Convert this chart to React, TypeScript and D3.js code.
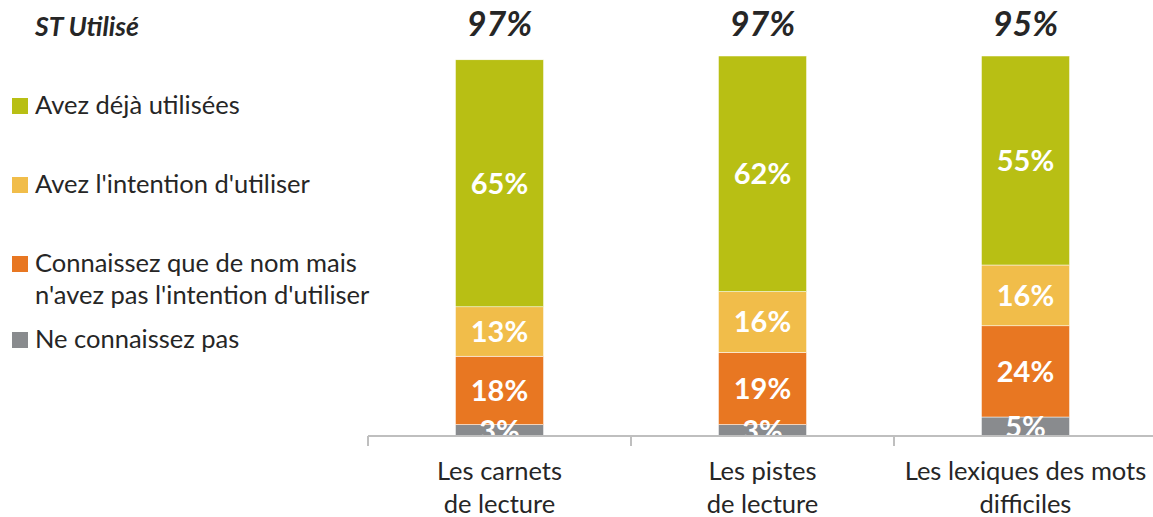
import React from "react";
import * as d3 from "d3";

const categories = [["Les carnets", "de lecture"], ["Les pistes", "de lecture"], ["Les lexiques des mots", "difficiles"]];
const seriesNames = ["Ne connaissez pas", "Connaissez que de nom mais n'avez pas l'intention d'utiliser", "Avez l'intention d'utiliser", "Avez déjà utilisées"];
const neConnaissezPas = [3, 3, 5];
const connaissezNom = [18, 19, 24];
const intention = [13, 16, 16];
const dejaUtilisees = [65, 62, 55];
const totals = ["97%", "97%", "95%"];
const legendTitle = "ST Utilisé";
const legendItems = [
  { lines: ["Avez déjà utilisées"], series: 3 },
  { lines: ["Avez l'intention d'utiliser"], series: 2 },
  { lines: ["Connaissez que de nom mais", "n'avez pas l'intention d'utiliser"], series: 1 },
  { lines: ["Ne connaissez pas"], series: 0 },
];

const colors = ["#898b8e", "#e87722", "#f1bd4a", "#b8bf14"];
const FONT = "Lato, 'Open Sans', sans-serif";

export default function App() {
  const W = 1153, H = 517;
  const axisY = 436;
  const x = d3.scaleBand<number>().domain([0, 1, 2]).range([368, 1157]).paddingInner(0.665).paddingOuter(0.3325);
  const y = d3.scaleLinear().domain([0, 100]).range([axisY, 56]);
  const seriesVals = [neConnaissezPas, connaissezNom, intention, dejaUtilisees];
  const stack = d3.stack<number, number>().keys([0, 1, 2, 3]).value((i, k) => seriesVals[k][i]);
  const stacked = stack([0, 1, 2]);
  const step = x.step();
  const bandStart = (i: number) => 368 + i * step;
  const legendYs = [106, 185, 264, 340];

  return (
    <svg width={W} height={H} style={{ position: "absolute", left: 0, top: 0 }} fontFamily={FONT}>
      <defs>
        <clipPath id="plotclip">
          <rect x={0} y={0} width={W} height={axisY} />
        </clipPath>
      </defs>
      <rect x={0} y={0} width={W} height={H} fill="#fff" />
      {/* legend */}
      <text x={35} y={36} fontSize={26.5} fontWeight="bold" fontStyle="italic" fill="#262626">{legendTitle}</text>
      {legendItems.map((it, j) => (
        <g key={j}>
          <rect x={12} y={legendYs[j] - 8} width={16} height={16} fill={colors[it.series]} />
          {it.lines.map((ln, k) => (
            <text key={k} x={35} y={legendYs[j] + 8 + k * 32} fontSize={25.5} fill="#262626">{ln}</text>
          ))}
        </g>
      ))}
      {/* bars */}
      <g clipPath="url(#plotclip)">
        {stacked.map((layer, k) => (
          <g key={k}>
            {layer.map((d, i) => (
              <rect key={i} x={x(i)} width={x.bandwidth()} y={y(d[1])} height={y(d[0]) - y(d[1])} fill={colors[k]} stroke="#fff" strokeWidth={0.5} />
            ))}
          </g>
        ))}
        {stacked.map((layer, k) => (
          <g key={"l" + k}>
            {layer.map((d, i) => (
              <text key={i} x={(x(i) as number) + x.bandwidth() / 2} y={(y(d[0]) + y(d[1])) / 2} dy="0.36em" textAnchor="middle" fontSize={29} fontWeight="bold" fill="#fff">
                {seriesVals[k][i]}%
              </text>
            ))}
          </g>
        ))}
      </g>
      {/* totals */}
      {totals.map((t, i) => (
        <text key={i} x={(x(i) as number) + x.bandwidth() / 2} y={36} textAnchor="middle" fontSize={34} fontWeight="bold" fontStyle="italic" fill="#262626">{t}</text>
      ))}
      {/* axis */}
      <line x1={368} x2={W} y1={axisY} y2={axisY} stroke="#bfbfbf" strokeWidth={2} />
      {[0, 1, 2, 3].map((i) => (
        <line key={i} x1={bandStart(i)} x2={bandStart(i)} y1={axisY} y2={axisY + 10} stroke="#bfbfbf" strokeWidth={2} />
      ))}
      {categories.map((lines, i) => (
        <g key={i}>
          {lines.map((ln, k) => (
            <text key={k} x={(x(i) as number) + x.bandwidth() / 2} y={480 + k * 33} textAnchor="middle" fontSize={25.5} fill="#262626">{ln}</text>
          ))}
        </g>
      ))}
    </svg>
  );
}
